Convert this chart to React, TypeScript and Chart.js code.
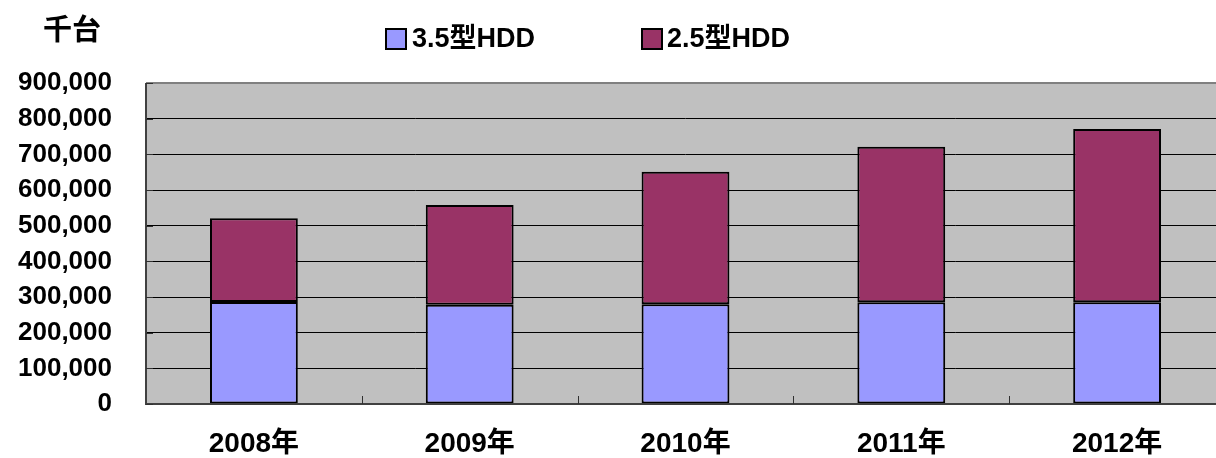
import React, { useEffect, useRef } from "react";
import { Chart, registerables } from "chart.js";

Chart.register(...registerables);

const categories = ["2008年", "2009年", "2010年", "2011年", "2012年"];
const hdd35 = [286000, 278000, 280000, 285000, 285000];
const hdd25 = [235000, 280000, 371000, 436000, 486000];
const seriesNames = ["3.5型HDD", "2.5型HDD"];
const seriesColors = ["#9999FF", "#993366"];
const unitLabel = "千台";
const yMax = 900000;
const yStep = 100000;

const FONT = "'Liberation Sans', 'Noto Sans CJK JP', sans-serif";
const CJK_FONT = "'Noto Sans CJK JP', sans-serif";

const decorPlugin = {
  id: "decor",
  beforeDraw(chart: any) {
    const { ctx, chartArea } = chart;
    ctx.save();
    ctx.fillStyle = "#C0C0C0";
    ctx.fillRect(chartArea.left, chartArea.top, chartArea.right - chartArea.left, chartArea.bottom - chartArea.top);
    ctx.restore();
  },
  afterDraw(chart: any) {
    const { ctx, chartArea } = chart;
    const xs = chart.scales.x;
    const ys = chart.scales.y;
    ctx.save();
    ctx.strokeStyle = "#808080";
    ctx.lineWidth = 2;
    ctx.beginPath();
    ctx.moveTo(chartArea.left, chartArea.top);
    ctx.lineTo(chartArea.right, chartArea.top);
    ctx.stroke();
    ctx.strokeStyle = "#404040";
    ctx.beginPath();
    ctx.moveTo(chartArea.left, chartArea.top);
    ctx.lineTo(chartArea.left, chartArea.bottom);
    ctx.lineTo(chartArea.right, chartArea.bottom);
    ctx.stroke();
    ctx.lineWidth = 1;
    ctx.strokeStyle = "#303030";
    ctx.beginPath();
    ys.ticks.forEach((t: any) => {
      const y = Math.round(ys.getPixelForValue(t.value)) + 0.5;
      ctx.moveTo(chartArea.left, y);
      ctx.lineTo(chartArea.left + 7, y);
    });
    for (let i = 0; i < categories.length - 1; i++) {
      const x = Math.round((xs.getPixelForTick(i) + xs.getPixelForTick(i + 1)) / 2) + 0.5;
      ctx.moveTo(x, chartArea.bottom);
      ctx.lineTo(x, chartArea.bottom - 8);
    }
    ctx.stroke();

    ctx.fillStyle = "#000";
    ctx.font = `bold 29px ${CJK_FONT}`;
    ctx.textBaseline = "middle";
    ctx.textAlign = "left";
    ctx.fillText(unitLabel, 43, 29);

    const items = [
      { box: 386, text: 412 },
      { box: 642, text: 667 },
    ];
    ctx.font = `bold 27px ${FONT}`;
    items.forEach((it, i) => {
      ctx.fillStyle = seriesColors[i];
      ctx.fillRect(it.box, 29, 20, 20);
      ctx.strokeStyle = "#000";
      ctx.lineWidth = 2;
      ctx.strokeRect(it.box, 29, 20, 20);
      ctx.fillStyle = "#000";
      ctx.fillText(seriesNames[i], it.text, 40);
    });
    ctx.restore();
  },
};

export default function App() {
  const ref = useRef<HTMLCanvasElement>(null);
  useEffect(() => {
    if (!ref.current) return;
    const chart = new Chart(ref.current, {
      type: "bar",
      data: {
        labels: categories,
        datasets: [
          {
            label: seriesNames[0],
            data: hdd35,
            backgroundColor: seriesColors[0],
            borderColor: "#000",
            borderWidth: 2,
            borderSkipped: false,
          },
          {
            label: seriesNames[1],
            data: hdd25,
            backgroundColor: seriesColors[1],
            borderColor: "#000",
            borderWidth: 2,
            borderSkipped: false,
          },
        ],
      },
      options: {
        animation: false,
        responsive: true,
        maintainAspectRatio: false,
        layout: { padding: { top: 83, right: 0, left: 0, bottom: 0 } },
        datasets: { bar: { categoryPercentage: 1, barPercentage: 0.407 } },
        plugins: { legend: { display: false }, tooltip: { enabled: false }, title: { display: false } },
        scales: {
          x: {
            stacked: true,
            afterFit: (s: any) => {
              s.height = 54;
            },
            grid: { display: false, drawTicks: false },
            border: { display: false },
            ticks: {
              color: "#000",
              padding: 23,
              autoSkip: false,
              maxRotation: 0,
              font: { family: FONT, size: 28, weight: "bold" },
            },
          },
          y: {
            stacked: true,
            min: 0,
            max: yMax,
            afterFit: (s: any) => {
              s.width = 146;
            },
            grid: {
              color: (c: any) => (c.tick && c.tick.value === yMax ? "rgba(0,0,0,0)" : "#000"),
              lineWidth: 1,
              drawTicks: false,
            },
            border: { display: false },
            ticks: {
              stepSize: yStep,
              autoSkip: false,
              color: "#000",
              padding: 34,
              font: { family: FONT, size: 26, weight: "bold" },
              callback: (v: any) => Number(v).toLocaleString("en-US"),
            },
          },
        },
      },
      plugins: [decorPlugin],
    } as any);
    return () => chart.destroy();
  }, []);
  return (
    <div style={{ position: "absolute", left: 0, top: 0, width: 1216, height: 458, overflow: "hidden" }}>
      <div style={{ position: "relative", width: 1225, height: 458 }}>
        <canvas ref={ref} />
      </div>
    </div>
  );
}
